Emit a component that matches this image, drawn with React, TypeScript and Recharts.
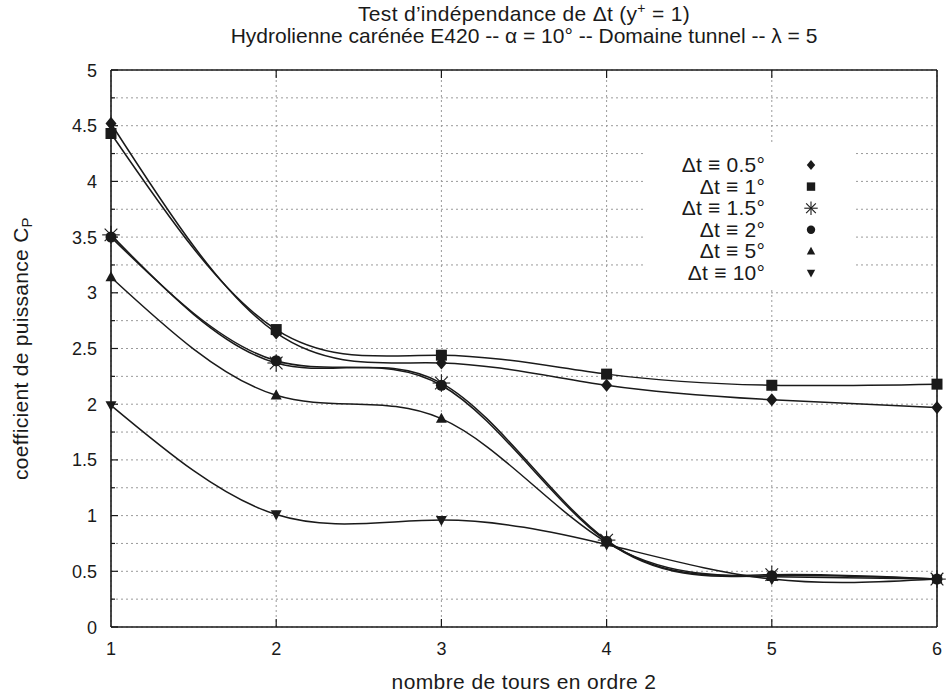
import React from 'react';
import { LineChart, Line, XAxis, YAxis, CartesianGrid, Legend } from 'recharts';

// ---- data ----
const xValues = [1, 2, 3, 4, 5, 6];
const dt05 = [4.52, 2.64, 2.37, 2.17, 2.04, 1.97];
const dt1 = [4.43, 2.67, 2.44, 2.27, 2.17, 2.18];
const dt15 = [3.52, 2.37, 2.19, 0.78, 0.47, 0.43];
const dt2 = [3.5, 2.39, 2.17, 0.77, 0.46, 0.43];
const dt5 = [3.14, 2.08, 1.87, 0.76, 0.45, 0.43];
const dt10 = [1.99, 1.01, 0.96, 0.74, 0.43, 0.43];

const seriesKeys = ['dt05', 'dt1', 'dt15', 'dt2', 'dt5', 'dt10'];
const seriesValues = [dt05, dt1, dt15, dt2, dt5, dt10];
const seriesNames = ['Δt ≡ 0.5°', 'Δt ≡ 1°', 'Δt ≡ 1.5°', 'Δt ≡ 2°', 'Δt ≡ 5°', 'Δt ≡ 10°'];
const seriesMarkers = ['diamond', 'square', 'star', 'circle', 'triangle', 'triangleDown'];

const yTicks = [0, 0.25, 0.5, 0.75, 1, 1.25, 1.5, 1.75, 2, 2.25, 2.5, 2.75, 3, 3.25, 3.5, 3.75, 4, 4.25, 4.5, 4.75, 5];
const xTicks = [1, 2, 3, 4, 5, 6];
const xInnerTicks = [2, 3, 4, 5];

const titleLine1 = 'Test d’indépendance de Δt (y';
const titleLine1b = ' = 1)';
const titleLine2 = 'Hydrolienne carénée E420 -- α = 10° -- Domaine tunnel -- λ = 5';
const xLabel = 'nombre de tours en ordre 2';
const yLabel = 'coefficient de puissance C';

const data = xValues.map((x, i) => {
  const row: any = { x };
  seriesKeys.forEach((k, j) => {
    row[k] = seriesValues[j][i];
  });
  return row;
});

const FONT = '"Liberation Sans", Arial, Helvetica, sans-serif';
const INK = '#1a1a1a';

function Marker({ type, cx, cy, s }: { type: string; cx: number; cy: number; s: number }) {
  if (cx == null || cy == null) return <g />;
  switch (type) {
    case 'diamond':
      return <path d={`M${cx},${cy - s * 1.2}L${cx + s},${cy}L${cx},${cy + s * 1.2}L${cx - s},${cy}Z`} fill={INK} />;
    case 'square':
      return <rect x={cx - s} y={cy - s} width={2 * s} height={2 * s} fill={INK} />;
    case 'star': {
      const r = s * 1.6;
      const d = r * 0.72;
      return (
        <g stroke={INK} strokeWidth={1.1}>
          <line x1={cx - r} y1={cy} x2={cx + r} y2={cy} />
          <line x1={cx} y1={cy - r} x2={cx} y2={cy + r} />
          <line x1={cx - d} y1={cy - d} x2={cx + d} y2={cy + d} />
          <line x1={cx - d} y1={cy + d} x2={cx + d} y2={cy - d} />
        </g>
      );
    }
    case 'circle':
      return <circle cx={cx} cy={cy} r={s} fill={INK} />;
    case 'triangle':
      return <path d={`M${cx},${cy - s * 1.1}L${cx + s},${cy + s * 0.75}L${cx - s},${cy + s * 0.75}Z`} fill={INK} />;
    case 'triangleDown':
      return <path d={`M${cx},${cy + s * 1.1}L${cx + s},${cy - s * 0.75}L${cx - s},${cy - s * 0.75}Z`} fill={INK} />;
    default:
      return <g />;
  }
}

const isMajor = (v: number) => Math.abs(v * 2 - Math.round(v * 2)) < 1e-6;

const LeftTick = (p: any) => {
  const v = p.payload.value;
  const major = isMajor(v);
  return (
    <g>
      <line x1={p.x} x2={p.x + (major ? 7 : 4)} y1={p.y} y2={p.y} stroke={INK} strokeWidth={1.2} />
      {major && (
        <text x={p.x - 14} y={p.y} dy={6.5} textAnchor="end" fontSize={18} fill={INK} fontFamily={FONT}>
          {String(v)}
        </text>
      )}
    </g>
  );
};

const RightTick = (p: any) => {
  const v = p.payload.value;
  const major = isMajor(v);
  return <line x1={p.x - (major ? 7 : 4)} x2={p.x} y1={p.y} y2={p.y} stroke={INK} strokeWidth={1.2} />;
};

const BottomTick = (p: any) => {
  const v = p.payload.value;
  const inner = xInnerTicks.includes(v);
  return (
    <g>
      {inner && <line x1={p.x} x2={p.x} y1={p.y} y2={p.y - 8} stroke={INK} strokeWidth={1.2} />}
      <text x={p.x} y={p.y + 28} textAnchor="middle" fontSize={18} fill={INK} fontFamily={FONT}>
        {String(v)}
      </text>
    </g>
  );
};

const TopTick = (p: any) => <line x1={p.x} x2={p.x} y1={p.y} y2={p.y + 8} stroke={INK} strokeWidth={1.2} />;

const XLabel = (p: any) => {
  const vb = p.viewBox || { x: 111, y: 627, width: 826 };
  return (
    <text x={vb.x + vb.width / 2} y={vb.y + 62} textAnchor="middle" fontSize={21} letterSpacing={0.4} fill={INK} fontFamily={FONT}>
      {xLabel}
    </text>
  );
};

const YLabel = (p: any) => {
  const vb = p.viewBox || { y: 70, height: 557 };
  const cx = 21;
  const cy = vb.y + vb.height / 2;
  return (
    <text transform={`rotate(-90, ${cx}, ${cy})`} x={cx} y={cy} dy={7} textAnchor="middle" fontSize={21} letterSpacing={0.3} fill={INK} fontFamily={FONT}>
      {yLabel}
      <tspan fontSize={15} dy={4}>P</tspan>
    </text>
  );
};

const TitleLabel = (p: any) => {
  const vb = p.viewBox || { x: 111, width: 826 };
  const cx = vb.x + vb.width / 2;
  return (
    <g fontFamily={FONT} fill={INK} fontSize={21}>
      <text x={cx} y={21} textAnchor="middle" letterSpacing={0.3}>
        {titleLine1}
        <tspan fontSize={14} dy={-8}>+</tspan>
        <tspan dy={8}>{titleLine1b}</tspan>
      </text>
      <text x={cx} y={43} textAnchor="middle" letterSpacing={0}>
        {titleLine2}
      </text>
    </g>
  );
};

const LegendBox = () => (
  <div style={{ background: '#fff', width: 210, height: 142 }}>
    <svg width={210} height={142} style={{ display: 'block', overflow: 'visible' }}>
      {seriesNames.map((n, i) => {
        const cy = 20 + i * 21.6;
        return (
          <g key={n}>
            <text x={122} y={cy} dy={7} textAnchor="end" fontSize={21} letterSpacing={0.2} fill={INK} fontFamily={FONT}>
              {n}
            </text>
            <Marker type={seriesMarkers[i]} cx={168} cy={cy} s={4.2} />
          </g>
        );
      })}
    </svg>
  </div>
);

export default function App() {
  return (
    <div style={{ position: 'absolute', left: 0, top: 0, width: 948, height: 696, background: '#fff' }}>
      <LineChart width={948} height={696} data={data} margin={{ top: 69, right: 10, bottom: 39, left: 51 }}>
        <CartesianGrid stroke="#9a9a9a" strokeDasharray="2 3" strokeWidth={1} />
        <XAxis
          dataKey="x"
          type="number"
          domain={[1, 6]}
          ticks={xTicks}
          interval={0}
          height={30}
          tickSize={0}
          tickMargin={0}
          tick={BottomTick}
          axisLine={{ stroke: INK, strokeWidth: 1.6 }}
          tickLine={false}
          label={<XLabel />}
        />
        <XAxis
          xAxisId="top"
          orientation="top"
          dataKey="x"
          type="number"
          domain={[1, 6]}
          ticks={xInnerTicks}
          interval={0}
          height={1}
          tickSize={0}
          tickMargin={0}
          tick={TopTick}
          axisLine={{ stroke: INK, strokeWidth: 1.6 }}
          tickLine={false}
          label={<TitleLabel />}
        />
        <YAxis
          type="number"
          domain={[0, 5]}
          ticks={yTicks}
          interval={0}
          width={60}
          tickSize={0}
          tickMargin={0}
          tick={LeftTick}
          axisLine={{ stroke: INK, strokeWidth: 1.6 }}
          tickLine={false}
          label={<YLabel />}
        />
        <YAxis
          yAxisId="right"
          orientation="right"
          type="number"
          domain={[0, 5]}
          ticks={yTicks}
          interval={0}
          width={1}
          tickSize={0}
          tickMargin={0}
          tick={RightTick}
          axisLine={{ stroke: INK, strokeWidth: 1.6 }}
          tickLine={false}
        />
        <Legend
          layout="vertical"
          align="center"
          verticalAlign="middle"
          wrapperStyle={{ left: 643, top: 145, width: 210, height: 142 }}
          content={LegendBox}
        />
        {seriesKeys.map((k, j) => (
          <Line
            key={k}
            dataKey={k}
            name={seriesNames[j]}
            type="natural"
            stroke={INK}
            strokeWidth={1.5}
            isAnimationActive={false}
            activeDot={false}
            dot={(p: any) => <Marker key={`${k}-${p.index}`} type={seriesMarkers[j]} cx={p.cx} cy={p.cy} s={5.5} />}
          />
        ))}
      </LineChart>
    </div>
  );
}
